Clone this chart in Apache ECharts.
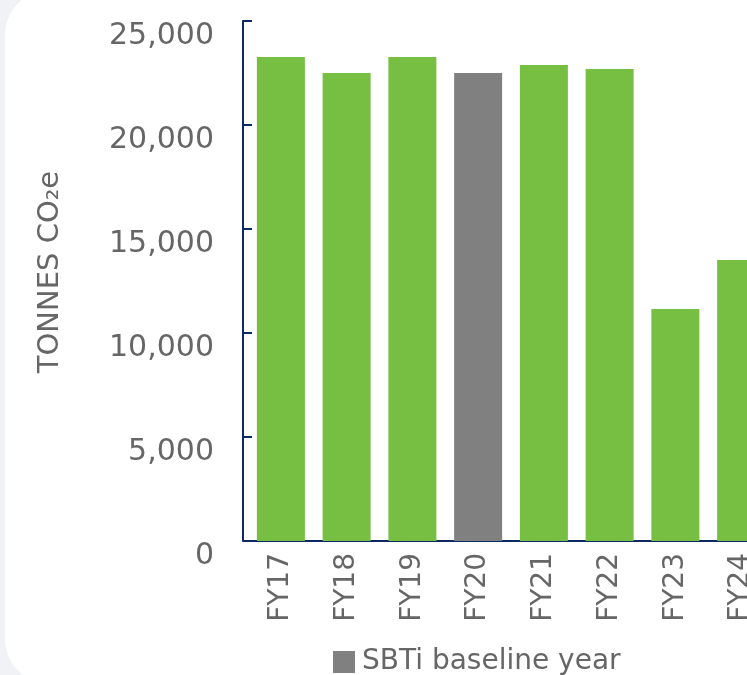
<!DOCTYPE html>
<html>
<head>
<meta charset="utf-8">
<script src="https://cdn.jsdelivr.net/npm/echarts@6/dist/echarts.min.js"></script>
<style>
  html, body { margin: 0; padding: 0; background: #f0f2f6; overflow: hidden; }
  .panel {
    position: absolute; left: 5px; top: -10px; width: 800px; height: 694px;
    background: #fff; border-radius: 45px;
  }
  #main { position: absolute; left: 0; top: 0; width: 747px; height: 675px; }
</style>
</head>
<body>
<div class="panel"></div>
<div id="main"></div>
<script>
// emissions by financial year (tonnes CO2e)
const years = ['FY17', 'FY18', 'FY19', 'FY20', 'FY21', 'FY22', 'FY23', 'FY24'];
const emissions = [23270, 22500, 23270, null, 22880, 22690, 11150, 13510];
const baseline = [null, null, null, 22500, null, null, null, null];

const font = 'DejaVu Sans';
const textGray = '#666666';
const navy = '#0b2a63';

const chart = echarts.init(document.getElementById('main'));
chart.setOption({
  animation: false,
  legend: {
    data: ['SBTi baseline year'],
    left: 333,
    top: 648,
    itemWidth: 22,
    itemHeight: 22,
    icon: 'rect',
    padding: 0,
    textStyle: { fontFamily: font, fontSize: 28, color: textGray, padding: [0, 0, 0, 2] }
  },
  grid: { left: 248, top: 21, width: 526, height: 520, outerBoundsMode: 'none' },
  xAxis: {
    type: 'category',
    data: years,
    axisLine: { lineStyle: { color: navy, width: 2 } },
    axisTick: { show: false },
    axisLabel: {
      rotate: 90, margin: 12, fontFamily: font, fontSize: 28, color: textGray
    }
  },
  yAxis: {
    type: 'value',
    min: 0, max: 25000, interval: 5000,
    offset: 5,
    name: 'TONNES CO₂e',
    nameLocation: 'middle',
    nameGap: 178,
    nameTextStyle: { fontFamily: font, fontSize: 29, color: textGray, padding: [0, 0, 0, 18] },
    axisLine: { show: true, lineStyle: { color: navy, width: 2 } },
    axisTick: { show: true, inside: true, length: 9, lineStyle: { color: navy, width: 2 } },
    splitLine: { show: false },
    axisLabel: {
      margin: 29, fontFamily: font, fontSize: 30, color: textGray,
      verticalAlign: 'top', lineHeight: 30,
      formatter: v => v.toLocaleString('en-US')
    }
  },
  series: [
    {
      name: 'Emissions', type: 'bar', stack: 'y', barWidth: 48,
      itemStyle: { color: '#76bf43' }, data: emissions
    },
    {
      name: 'SBTi baseline year', type: 'bar', stack: 'y', barWidth: 48,
      itemStyle: { color: '#808080' }, data: baseline
    }
  ]
});
</script>
</body>
</html>
